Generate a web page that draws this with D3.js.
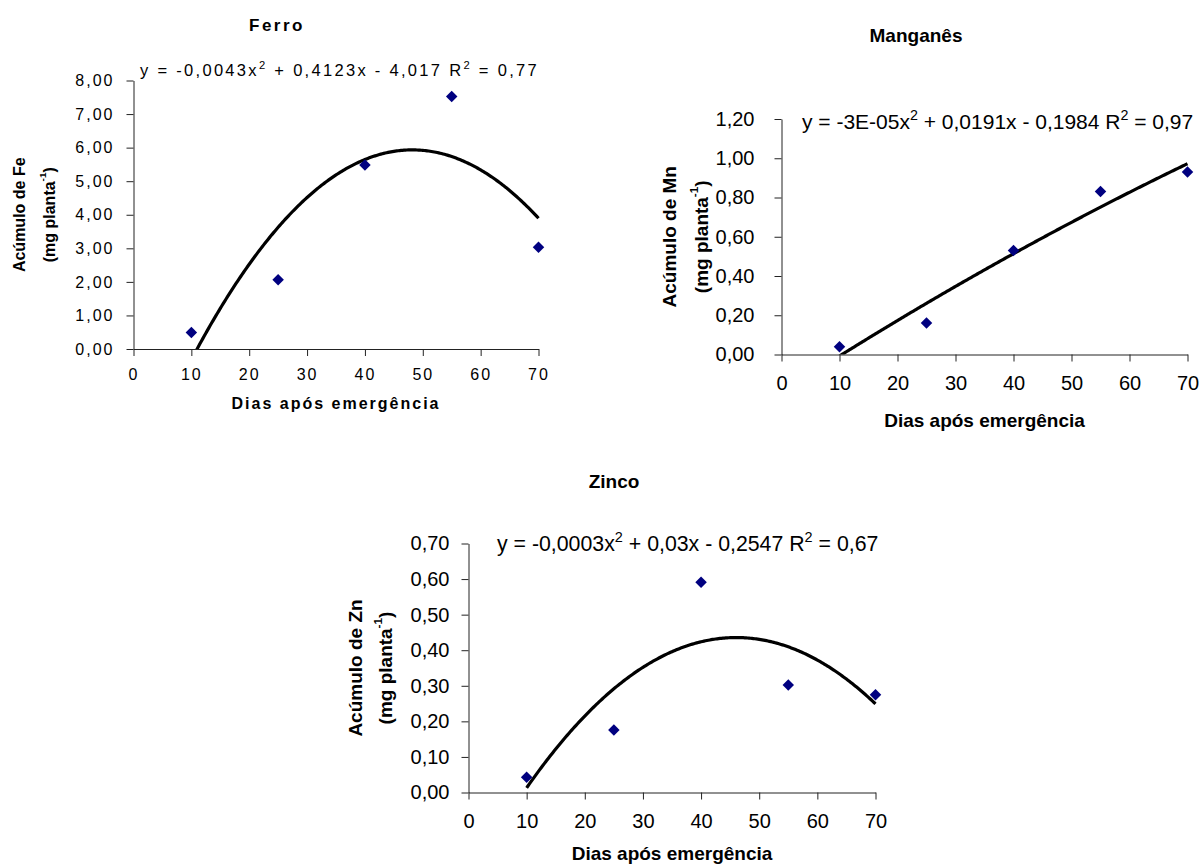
<!DOCTYPE html>
<html>
<head>
<meta charset="utf-8">
<script src="https://cdn.jsdelivr.net/npm/d3@7/dist/d3.min.js"></script>
<style>
  html, body { margin: 0; padding: 0; background: #fff; }
  svg { display: block; font-family: Arial, "Liberation Sans", sans-serif; }
</style>
</head>
<body>
<svg id="chart" width="1202" height="865"></svg>
<script>
// Days after emergence (sampling dates)
const days = [10, 25, 40, 55, 70];
const xTicks = [0, 10, 20, 30, 40, 50, 60, 70];

// Accumulated micronutrients (mg per plant)
const feValues = [0.49, 2.06, 5.48, 7.52, 3.03];
const mnValues = [0.04, 0.16, 0.53, 0.83, 0.93];
const znValues = [0.043, 0.176, 0.591, 0.302, 0.275];

// Y tick values
const feTicks = [0, 1, 2, 3, 4, 5, 6, 7, 8];
const mnTicks = [0, 0.2, 0.4, 0.6, 0.8, 1.0, 1.2];
const znTicks = [0, 0.1, 0.2, 0.3, 0.4, 0.5, 0.6, 0.7];

// Equation labels (odd entries are superscripts)
const feEq = ["y = -0,0043x", "2", " + 0,4123x - 4,017 R", "2", " = 0,77"];
const mnEq = ["y = -3E-05x", "2", " + 0,0191x - 0,1984 R", "2", " = 0,97"];
const znEq = ["y = -0,0003x", "2", " + 0,03x - 0,2547 R", "2", " = 0,67"];

const svg = d3.select("#chart");
const fmt = v => d3.format(".2f")(v).replace(".", ",");

// Least-squares quadratic fit y = a x² + b x + c (normal equations)
function quadFit(xs, ys) {
  let s = [0, 0, 0, 0, 0], t = [0, 0, 0];
  xs.forEach((x, i) => {
    for (let k = 0; k < 5; k++) s[k] += Math.pow(x, k);
    for (let k = 0; k < 3; k++) t[k] += ys[i] * Math.pow(x, k);
  });
  // rows for unknowns [c, b, a]
  const M = [
    [s[0], s[1], s[2], t[0]],
    [s[1], s[2], s[3], t[1]],
    [s[2], s[3], s[4], t[2]]
  ];
  for (let i = 0; i < 3; i++) {
    for (let j = i + 1; j < 3; j++) {
      const f = M[j][i] / M[i][i];
      for (let k = i; k < 4; k++) M[j][k] -= f * M[i][k];
    }
  }
  const r = [0, 0, 0];
  for (let i = 2; i >= 0; i--) {
    let v = M[i][3];
    for (let k = i + 1; k < 3; k++) v -= M[i][k] * r[k];
    r[i] = v / M[i][i];
  }
  return [r[2], r[1], r[0]];
}

function panel(o) {
  const g = svg.append("g");
  const x = d3.scaleLinear().domain([0, 70]).range([o.left, o.right]);
  const y = d3.scaleLinear().domain([0, o.yMax]).range([o.bottom, o.top]);
  const ls = o.ls || 0;

  const clipId = "clip-" + o.id;
  g.append("clipPath").attr("id", clipId)
    .append("rect").attr("x", o.left).attr("y", o.top - 2)
    .attr("width", o.right - o.left + 4).attr("height", o.bottom - o.top + 2);

  // axes
  const xAxis = d3.axisBottom(x).tickValues(xTicks).tickSize(7).tickSizeOuter(0).tickPadding(o.xPad).tickFormat(d3.format("d"));
  const yAxis = d3.axisLeft(y).tickValues(o.yTicks).tickSize(7).tickSizeOuter(0).tickPadding(o.yPad).tickFormat(fmt);

  const gx = g.append("g").attr("transform", `translate(0,${o.bottom})`).call(xAxis);
  const gy = g.append("g").attr("transform", `translate(${o.left},0)`).call(yAxis);
  [gx, gy].forEach(a => {
    a.select(".domain").attr("stroke", "#222").attr("stroke-width", 1);
    a.selectAll(".tick line").attr("stroke", "#222").attr("stroke-width", 1);
    a.selectAll(".tick text").attr("fill", "#000").attr("font-size", o.tickSize)
      .attr("font-family", "Arial, 'Liberation Sans', sans-serif")
      .attr("letter-spacing", ls);
  });

  // polynomial trendline fitted to the points
  const c = quadFit(days, o.values);
  const xs = d3.range(10, 70.001, 0.25);
  const line = d3.line().x(d => x(d)).y(d => y(c[0] * d * d + c[1] * d + c[2]));
  g.append("path").datum(xs).attr("d", line)
    .attr("fill", "none").attr("stroke", "#000").attr("stroke-width", 3.2)
    .attr("clip-path", `url(#${clipId})`);

  // data markers
  const sym = d3.symbol().type(d3.symbolDiamond2).size(o.markSize);
  g.selectAll("path.pt").data(days).join("path").attr("class", "pt")
    .attr("d", sym)
    .attr("transform", (d, i) => `translate(${x(d)},${y(o.values[i])})`)
    .attr("fill", "#000080");

  // title
  g.append("text").attr("x", o.titleX).attr("y", o.titleY)
    .attr("text-anchor", "middle").attr("font-weight", "bold")
    .attr("font-size", o.titleSize).attr("letter-spacing", o.titleLs || 0)
    .text(o.title);

  // equation
  const eq = g.append("text").attr("x", o.eqX).attr("y", o.eqY)
    .attr("font-size", o.eqSize).attr("letter-spacing", o.eqLs || 0);
  o.eq.forEach((s, i) => {
    const t = eq.append("tspan").text(s);
    if (i % 2 === 1) t.attr("font-size", o.eqSize * 0.68).attr("dy", -o.eqSize * 0.42);
    else if (i > 0) t.attr("dy", o.eqSize * 0.42);
  });

  // x-axis title
  g.append("text").attr("x", (o.left + o.right) / 2).attr("y", o.xLabelY)
    .attr("text-anchor", "middle").attr("font-weight", "bold")
    .attr("font-size", o.labelSize).attr("letter-spacing", o.xLabelLs || 0)
    .text("Dias após emergência");

  // y-axis title (two lines)
  const cy = (o.top + o.bottom) / 2;
  g.append("text").attr("transform", `translate(${o.yLab1},${cy}) rotate(-90)`)
    .attr("text-anchor", "middle").attr("dominant-baseline", "central")
    .attr("font-weight", "bold").attr("font-size", o.labelSize)
    .text("Acúmulo de " + o.el);
  const t2 = g.append("text").attr("transform", `translate(${o.yLab2},${cy}) rotate(-90)`)
    .attr("text-anchor", "middle").attr("dominant-baseline", "central")
    .attr("font-weight", "bold").attr("font-size", o.labelSize);
  t2.append("tspan").text("(mg planta");
  t2.append("tspan").text("-1").attr("font-size", o.labelSize * 0.62).attr("dy", -o.labelSize * 0.42);
  t2.append("tspan").text(")").attr("dy", o.labelSize * 0.42);
}

panel({
  id: "fe", el: "Fe", title: "Ferro", values: feValues, eq: feEq,
  yMax: 8, yTicks: feTicks,
  left: 133.5, right: 538.5, top: 80.5, bottom: 349,
  tickSize: 16, ls: 2, xPad: 13, yPad: 12,
  titleX: 277, titleY: 31, titleSize: 17, titleLs: 2.5,
  eqX: 140, eqY: 76, eqSize: 16.5, eqLs: 2.3,
  xLabelY: 409, xLabelLs: 2, labelSize: 16,
  yLab1: 19, yLab2: 49, markSize: 84
});

panel({
  id: "mn", el: "Mn", title: "Manganês", values: mnValues, eq: mnEq,
  yMax: 1.2, yTicks: mnTicks,
  left: 781.5, right: 1187.5, top: 119, bottom: 354.5,
  tickSize: 20, xPad: 14, yPad: 20,
  titleX: 916, titleY: 42, titleSize: 19,
  eqX: 802, eqY: 129, eqSize: 21,
  xLabelY: 427, labelSize: 19,
  yLab1: 669, yLab2: 701, markSize: 84
});

panel({
  id: "zn", el: "Zn", title: "Zinco", values: znValues, eq: znEq,
  yMax: 0.7, yTicks: znTicks,
  left: 468.5, right: 875.5, top: 543.5, bottom: 792.5,
  tickSize: 20, xPad: 14, yPad: 12,
  titleX: 614, titleY: 488, titleSize: 19,
  eqX: 497, eqY: 551, eqSize: 21.3,
  xLabelY: 860, labelSize: 19,
  yLab1: 355, yLab2: 385, markSize: 84
});
</script>
</body>
</html>
